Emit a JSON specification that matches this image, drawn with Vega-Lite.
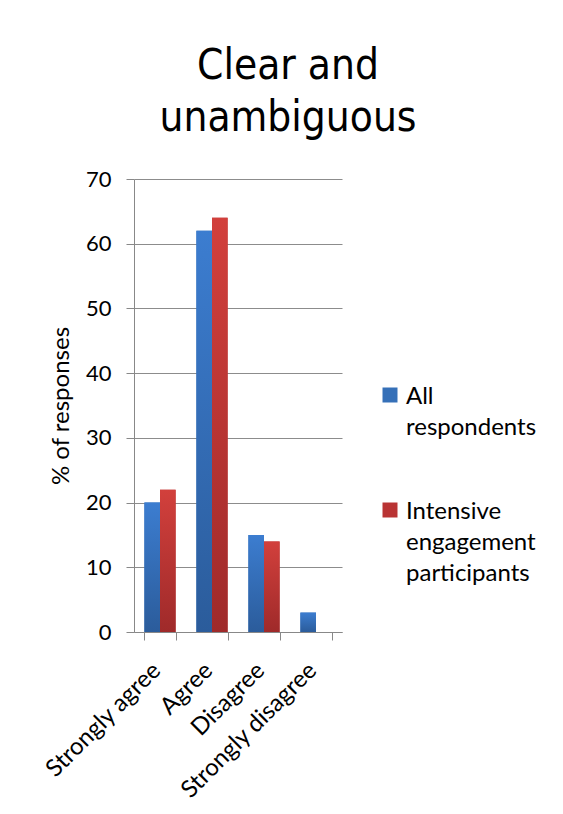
{
  "$schema": "https://vega.github.io/schema/vega-lite/v6.json",
  "width": 208,
  "height": 453,
  "autosize": "none",
  "padding": {"left": 134, "top": 179, "right": 221, "bottom": 182},
  "background": "white",
  "title": {
    "text": ["Clear and", "unambiguous"],
    "font": "DejaVu Sans Condensed",
    "fontSize": 42,
    "fontWeight": "normal",
    "lineHeight": 52,
    "color": "black",
    "anchor": "middle",
    "frame": "group",
    "dx": 50,
    "offset": 28
  },
  "config": {
    "view": {"stroke": null},
    "axis": {"labelFont": "Lato", "titleFont": "Lato", "labelColor": "black", "titleColor": "black"}
  },
  "data": {
    "values": [
      {"category": "Strongly agree", "series": "All respondents", "value": 20},
      {"category": "Strongly agree", "series": "Intensive engagement participants", "value": 22},
      {"category": "Agree", "series": "All respondents", "value": 62},
      {"category": "Agree", "series": "Intensive engagement participants", "value": 64},
      {"category": "Disagree", "series": "All respondents", "value": 15},
      {"category": "Disagree", "series": "Intensive engagement participants", "value": 14},
      {"category": "Strongly disagree", "series": "All respondents", "value": 3},
      {"category": "Strongly disagree", "series": "Intensive engagement participants", "value": 0}
    ]
  },
  "encoding": {
    "x": {
      "field": "category",
      "type": "nominal",
      "sort": ["Strongly agree", "Agree", "Disagree", "Strongly disagree"],
      "scale": {"paddingInner": 0.4, "paddingOuter": 0.2},
      "axis": {
        "title": null,
        "labelAngle": -45,
        "labelFontSize": 24,
        "labelLimit": 400,
        "tickBand": "extent",
        "tickSize": 8,
        "tickColor": "#888888",
        "domainColor": "#888888",
        "labelPadding": 18,
        "labelOffset": -12,
        "grid": false
      }
    },
    "xOffset": {
      "field": "series",
      "type": "nominal",
      "sort": ["All respondents", "Intensive engagement participants"]
    },
    "y": {
      "field": "value",
      "type": "quantitative",
      "scale": {"domain": [0, 70], "nice": false},
      "axis": {
        "title": "% of responses",
        "titleFontSize": 24,
        "titleFontWeight": "normal",
        "titlePadding": 12,
        "values": [0, 10, 20, 30, 40, 50, 60, 70],
        "labelFontSize": 22,
        "labelPadding": 15,
        "tickSize": 8,
        "tickColor": "#888888",
        "domainColor": "#888888",
        "grid": true,
        "gridColor": "#8c8c8c",
        "gridWidth": 1
      }
    }
  },
  "layer": [
    {
      "mark": {"type": "bar"},
      "encoding": {
        "color": {
          "field": "series",
          "type": "nominal",
          "scale": {
            "domain": ["All respondents", "Intensive engagement participants"],
            "range": ["#3670b8", "#b93434"]
          },
          "legend": {
            "title": null,
            "orient": "none",
            "legendX": 244,
            "legendY": 204,
            "symbolType": "square",
            "symbolSize": 225,
            "symbolStrokeWidth": 0,
            "labelFont": "Lato",
            "labelFontSize": 24,
            "labelColor": "black",
            "labelLimit": 300,
            "labelOffset": 4,
            "labelBaseline": "top",
            "rowPadding": 58,
            "labelExpr": "datum.label == 'All respondents' ? ['All', 'respondents'] : ['Intensive', 'engagement', 'participants']",
            "encode": {
              "labels": {
                "update": {
                  "dy": {"value": -10},
                  "lineHeight": {"value": 31}
                }
              }
            }
          }
        }
      }
    },
    {
      "mark": {"type": "bar"},
      "encoding": {
        "fill": {
          "condition": {
            "test": "datum.series == 'All respondents'",
            "value": {
              "gradient": "linear", "x1": 0, "y1": 0, "x2": 0, "y2": 1,
              "stops": [{"offset": 0, "color": "#3c7dd0"}, {"offset": 1, "color": "#2b5c9b"}]
            }
          },
          "value": {
            "gradient": "linear", "x1": 0, "y1": 0, "x2": 0, "y2": 1,
            "stops": [{"offset": 0, "color": "#d2403c"}, {"offset": 1, "color": "#9f2a2a"}]
          }
        }
      }
    }
  ]
}
